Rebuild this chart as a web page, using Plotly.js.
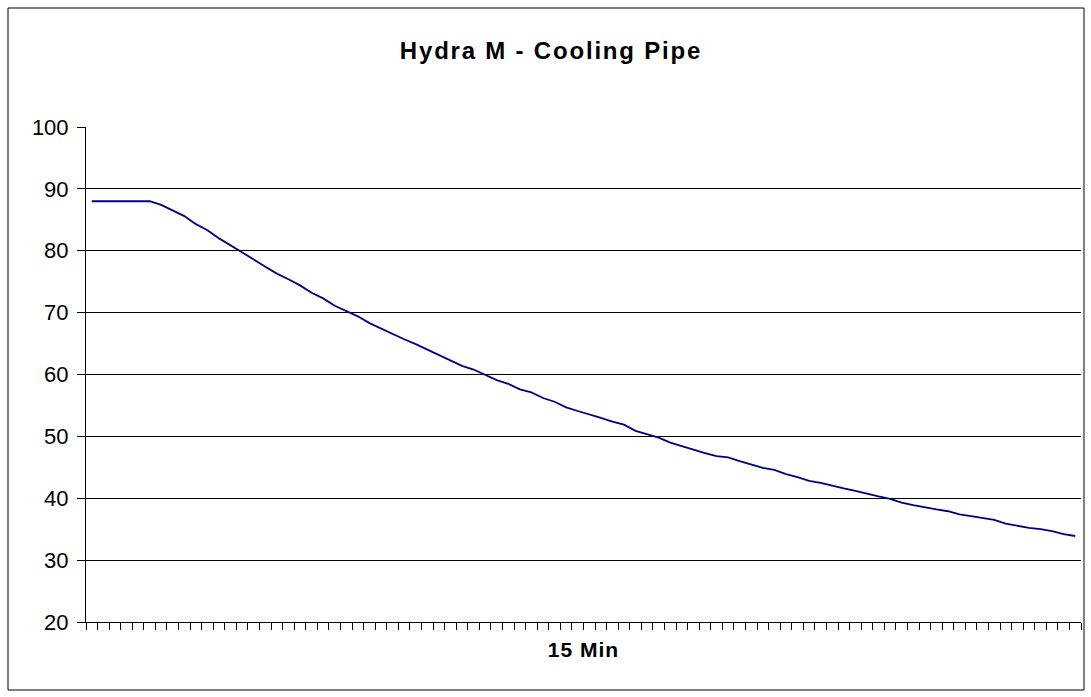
<!DOCTYPE html>
<html>
<head>
<meta charset="utf-8">
<script src="https://cdn.plot.ly/plotly-3.0.1.min.js"></script>
<style>
html,body{margin:0;padding:0;background:#fff;}
#chart{width:1091px;height:697px;}
.gtitle{letter-spacing:1.8px;}
.xtitle{letter-spacing:1px;}
</style>
</head>
<body>
<div id="chart"></div>
<script>
// Temperature readings, one per interval
const temperatures = [
  88.0, 88.0, 88.0, 88.0, 88.0, 88.0, 87.4, 86.5, 85.6, 84.3,
  83.3, 82.0, 80.9, 79.7, 78.6, 77.4, 76.3, 75.4, 74.4, 73.2,
  72.3, 71.1, 70.2, 69.4, 68.3, 67.4, 66.5, 65.7, 64.9, 64.0,
  63.1, 62.3, 61.4, 60.8, 59.9, 59.1, 58.5, 57.6, 57.1, 56.2,
  55.6, 54.7, 54.1, 53.6, 53.0, 52.4, 51.9, 50.9, 50.4, 49.8,
  49.0, 48.4, 47.8, 47.3, 46.8, 46.6, 46.0, 45.4, 44.9, 44.6,
  43.9, 43.4, 42.8, 42.5, 42.0, 41.6, 41.2, 40.7, 40.3, 39.9,
  39.3, 38.9, 38.5, 38.2, 37.9, 37.4, 37.1, 36.8, 36.5, 35.9,
  35.5, 35.2, 35.0, 34.7, 34.2, 33.9
];
const categories = temperatures.map((_, i) => String(i + 1));
const yTickValues = [20, 30, 40, 50, 60, 70, 80, 90, 100];
const chartTitle = "Hydra M - Cooling Pipe";
const xAxisTitle = "15 Min";

const W = 1091, H = 697;
const M = {l: 86, r: 10, t: 127, b: 75};
const pw = W - M.l - M.r, ph = H - M.t - M.b;
const px = v => (v - M.l) / pw;
const py = v => (H - M.b - v) / ph;

const font = "Liberation Sans, Arial, sans-serif";

const trace = {
  type: "scatter",
  mode: "lines",
  x: categories,
  y: temperatures,
  line: {color: "#000080", width: 1.8},
  hoverinfo: "x+y"
};

const layout = {
  width: W, height: H,
  margin: M,
  paper_bgcolor: "#fff",
  plot_bgcolor: "#fff",
  showlegend: false,
  font: {family: font, color: "#000"},
  title: {
    text: "<b>" + chartTitle + "</b>",
    font: {family: font, size: 24, color: "#000"},
    x: 551 / W, xref: "container", xanchor: "center",
    y: 1 - 51 / H, yref: "container", yanchor: "middle"
  },
  xaxis: {
    type: "category",
    range: [-0.5, temperatures.length - 0.5],
    tickmode: "linear",
    dtick: 1,
    tickson: "boundaries",
    ticks: "outside",
    ticklen: 7,
    tickwidth: 1,
    tickcolor: "#000",
    showticklabels: false,
    showgrid: false,
    showline: true,
    linecolor: "#000",
    linewidth: 1,
    zeroline: false,
    fixedrange: true,
    title: {
      text: "<b>" + xAxisTitle + "</b>",
      font: {family: font, size: 21, color: "#000"},
      standoff: 20
    }
  },
  yaxis: {
    range: [20, 100],
    tickvals: yTickValues,
    ticks: "outside",
    ticklen: 8,
    tickwidth: 1,
    tickcolor: "#000",
    ticklabelstandoff: 4,
    tickfont: {family: font, size: 22, color: "#000"},
    showgrid: true,
    gridcolor: "#000",
    gridwidth: 1,
    showline: true,
    linecolor: "#000",
    linewidth: 1,
    zeroline: false,
    fixedrange: true
  },
  shapes: [{
    type: "rect", xref: "paper", yref: "paper",
    x0: px(8), x1: px(1084), y0: py(690), y1: py(8),
    line: {color: "#000", width: 1}, fillcolor: "rgba(0,0,0,0)",
    layer: "above"
  }]
};

Plotly.newPlot("chart", [trace], layout, {displayModeBar: false});
</script>
</body>
</html>
